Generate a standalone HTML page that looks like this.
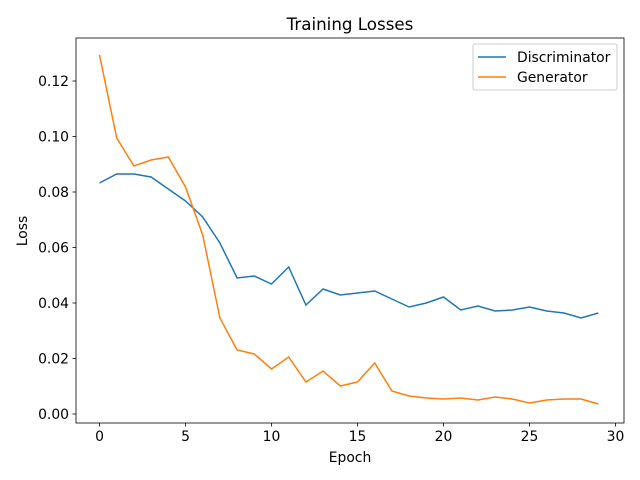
<!DOCTYPE html>
<html><head><style>body{margin:0;background:#fff}svg{display:block}text{font-family:"DejaVu Sans","Liberation Sans",sans-serif;fill:#000}</style></head>
<body>
<svg width="640" height="480" viewBox="0 0 640 480" xmlns="http://www.w3.org/2000/svg">
<rect x="0" y="0" width="640" height="480" fill="#fff"/>
<polyline fill="none" stroke="#1f77b4" stroke-width="1.5" points="99.5,183 116.7,174 133.9,174 151.1,177 168.3,189 185.5,201 202.7,217 219.9,243 237.1,278 254.3,276 271.5,284 288.7,267 305.9,305 323.1,289 340.3,295 357.5,293 374.7,291 391.9,299 409.1,307 426.3,303 443.5,297 460.7,310 477.9,306 495.1,311 512.3,310 529.5,307 546.7,311 563.9,313 581.1,318 598.3,313"/>
<polyline fill="none" stroke="#ff7f0e" stroke-width="1.5" points="99.5,55 116.7,138 133.9,166 151.1,160 168.3,157 185.5,187 202.7,235 219.9,318 237.1,350 254.3,354 271.5,369 288.7,357 305.9,382 323.1,371 340.3,386 357.5,382 374.7,363 391.9,391 409.1,396 426.3,398 443.5,399 460.7,398 477.9,400 495.1,397 512.3,399 529.5,403 546.7,400 563.9,399 581.1,399 598.3,404"/>
<rect x="76" y="38" width="548" height="385" fill="none" stroke="#000" stroke-width="0.8"/>
<g stroke="#000" stroke-width="0.8">
<line x1="99.5" y1="423" x2="99.5" y2="426.5"/><line x1="185.5" y1="423" x2="185.5" y2="426.5"/><line x1="271.5" y1="423" x2="271.5" y2="426.5"/><line x1="357.5" y1="423" x2="357.5" y2="426.5"/><line x1="443.5" y1="423" x2="443.5" y2="426.5"/><line x1="529.5" y1="423" x2="529.5" y2="426.5"/><line x1="615.5" y1="423" x2="615.5" y2="426.5"/>
<line x1="72.5" y1="414" x2="76" y2="414"/><line x1="72.5" y1="358.5" x2="76" y2="358.5"/><line x1="72.5" y1="303" x2="76" y2="303"/><line x1="72.5" y1="247.5" x2="76" y2="247.5"/><line x1="72.5" y1="192" x2="76" y2="192"/><line x1="72.5" y1="136.5" x2="76" y2="136.5"/><line x1="72.5" y1="81" x2="76" y2="81"/>
</g>
<g font-size="13.9" text-anchor="middle">
<text x="99.5" y="441">0</text><text x="185.5" y="441">5</text><text x="271.5" y="441">10</text><text x="357.5" y="441">15</text><text x="443.5" y="441">20</text><text x="529.5" y="441">25</text><text x="615.5" y="441">30</text>
</g>
<g font-size="13.9" text-anchor="end">
<text x="69" y="419">0.00</text><text x="69" y="363.5">0.02</text><text x="69" y="308">0.04</text><text x="69" y="252.5">0.06</text><text x="69" y="197">0.08</text><text x="69" y="141.5">0.10</text><text x="69" y="86">0.12</text>
</g>
<text x="350" y="462" font-size="13.9" text-anchor="middle">Epoch</text>
<text x="27" y="231" font-size="13.9" text-anchor="middle" transform="rotate(-90 27 231)">Loss</text>
<text x="350" y="30" font-size="16.7" text-anchor="middle">Training Losses</text>
<rect x="473" y="44" width="144" height="46" fill="#fff" stroke="#ccc" stroke-width="1" rx="2"/>
<line x1="478" y1="57" x2="506" y2="57" stroke="#1f77b4" stroke-width="1.5"/>
<line x1="478" y1="77" x2="506" y2="77" stroke="#ff7f0e" stroke-width="1.5"/>
<text x="517" y="62" font-size="13.9">Discriminator</text>
<text x="517" y="82" font-size="13.9">Generator</text>
</svg>
</body></html>
